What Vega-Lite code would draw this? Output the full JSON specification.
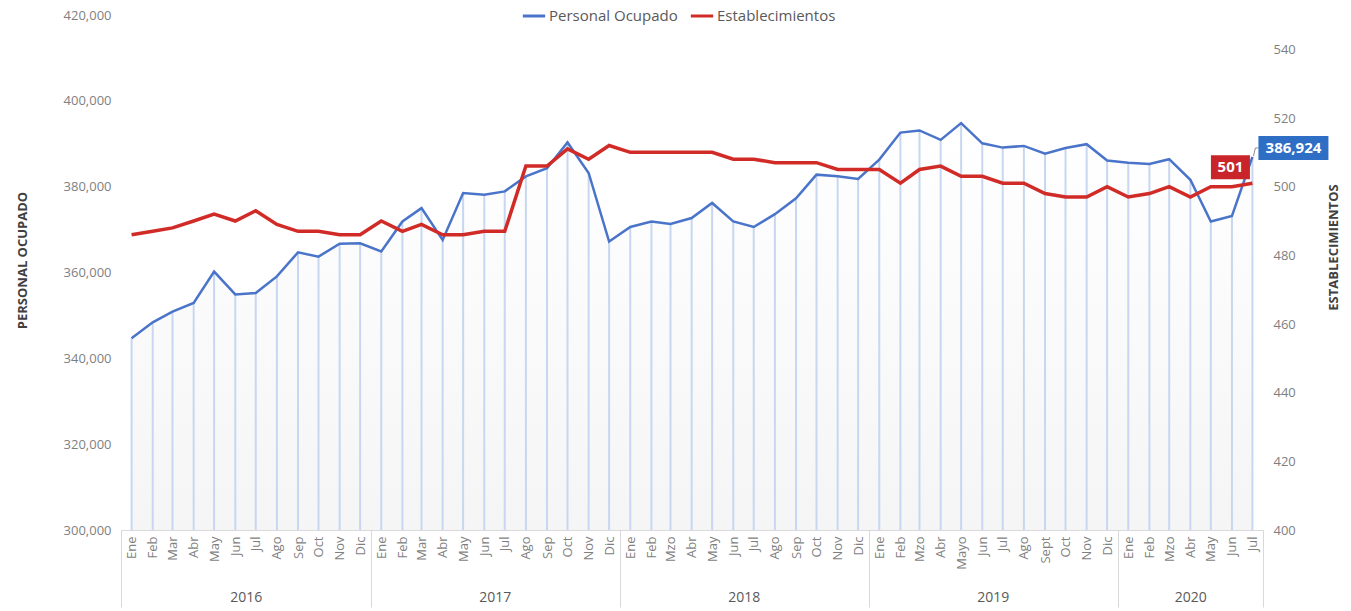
{
  "$schema": "https://vega.github.io/schema/vega-lite/v6.json",
  "width": 1142,
  "height": 515,
  "autosize": {"type": "none"},
  "padding": {"left": 121, "top": 15, "right": 88, "bottom": 81},
  "background": "white",
  "config": {
    "view": {"stroke": null},
    "font": "Open Sans",
    "axis": {"grid": false}
  },
  "data": {
    "values": [
      {"fecha": "2016-01-01", "personal": 344700, "establecimientos": 486},
      {"fecha": "2016-02-01", "personal": 348400, "establecimientos": 487},
      {"fecha": "2016-03-01", "personal": 350900, "establecimientos": 488},
      {"fecha": "2016-04-01", "personal": 352900, "establecimientos": 490},
      {"fecha": "2016-05-01", "personal": 360200, "establecimientos": 492},
      {"fecha": "2016-06-01", "personal": 354900, "establecimientos": 490},
      {"fecha": "2016-07-01", "personal": 355200, "establecimientos": 493},
      {"fecha": "2016-08-01", "personal": 359100, "establecimientos": 489},
      {"fecha": "2016-09-01", "personal": 364700, "establecimientos": 487},
      {"fecha": "2016-10-01", "personal": 363700, "establecimientos": 487},
      {"fecha": "2016-11-01", "personal": 366700, "establecimientos": 486},
      {"fecha": "2016-12-01", "personal": 366800, "establecimientos": 486},
      {"fecha": "2017-01-01", "personal": 364900, "establecimientos": 490},
      {"fecha": "2017-02-01", "personal": 371900, "establecimientos": 487},
      {"fecha": "2017-03-01", "personal": 375000, "establecimientos": 489},
      {"fecha": "2017-04-01", "personal": 367600, "establecimientos": 486},
      {"fecha": "2017-05-01", "personal": 378500, "establecimientos": 486},
      {"fecha": "2017-06-01", "personal": 378100, "establecimientos": 487},
      {"fecha": "2017-07-01", "personal": 378900, "establecimientos": 487},
      {"fecha": "2017-08-01", "personal": 382400, "establecimientos": 506},
      {"fecha": "2017-09-01", "personal": 384300, "establecimientos": 506},
      {"fecha": "2017-10-01", "personal": 390300, "establecimientos": 511},
      {"fecha": "2017-11-01", "personal": 383200, "establecimientos": 508},
      {"fecha": "2017-12-01", "personal": 367200, "establecimientos": 512},
      {"fecha": "2018-01-01", "personal": 370600, "establecimientos": 510},
      {"fecha": "2018-02-01", "personal": 371900, "establecimientos": 510},
      {"fecha": "2018-03-01", "personal": 371300, "establecimientos": 510},
      {"fecha": "2018-04-01", "personal": 372700, "establecimientos": 510},
      {"fecha": "2018-05-01", "personal": 376200, "establecimientos": 510},
      {"fecha": "2018-06-01", "personal": 371900, "establecimientos": 508},
      {"fecha": "2018-07-01", "personal": 370600, "establecimientos": 508},
      {"fecha": "2018-08-01", "personal": 373600, "establecimientos": 507},
      {"fecha": "2018-09-01", "personal": 377300, "establecimientos": 507},
      {"fecha": "2018-10-01", "personal": 382800, "establecimientos": 507},
      {"fecha": "2018-11-01", "personal": 382400, "establecimientos": 505},
      {"fecha": "2018-12-01", "personal": 381800, "establecimientos": 505},
      {"fecha": "2019-01-01", "personal": 386300, "establecimientos": 505},
      {"fecha": "2019-02-01", "personal": 392600, "establecimientos": 501},
      {"fecha": "2019-03-01", "personal": 393100, "establecimientos": 505},
      {"fecha": "2019-04-01", "personal": 390900, "establecimientos": 506},
      {"fecha": "2019-05-01", "personal": 394800, "establecimientos": 503},
      {"fecha": "2019-06-01", "personal": 390100, "establecimientos": 503},
      {"fecha": "2019-07-01", "personal": 389100, "establecimientos": 501},
      {"fecha": "2019-08-01", "personal": 389500, "establecimientos": 501},
      {"fecha": "2019-09-01", "personal": 387700, "establecimientos": 498},
      {"fecha": "2019-10-01", "personal": 389000, "establecimientos": 497},
      {"fecha": "2019-11-01", "personal": 389900, "establecimientos": 497},
      {"fecha": "2019-12-01", "personal": 386100, "establecimientos": 500},
      {"fecha": "2020-01-01", "personal": 385600, "establecimientos": 497},
      {"fecha": "2020-02-01", "personal": 385300, "establecimientos": 498},
      {"fecha": "2020-03-01", "personal": 386400, "establecimientos": 500},
      {"fecha": "2020-04-01", "personal": 381600, "establecimientos": 497},
      {"fecha": "2020-05-01", "personal": 371900, "establecimientos": 500},
      {"fecha": "2020-06-01", "personal": 373200, "establecimientos": 500},
      {"fecha": "2020-07-01", "personal": 386924, "establecimientos": 501}
    ]
  },
  "layer": [
    {
      "encoding": {
        "x": {
          "field": "fecha",
          "type": "temporal",
          "scale": {
            "type": "utc",
            "domain": [
              {"year": 2015, "month": 12, "date": 16, "hours": 12, "utc": true},
              {"year": 2020, "month": 7, "date": 16, "hours": 12, "utc": true}
            ]
          },
          "axis": {
            "orient": "bottom",
            "title": null,
            "tickCount": {"interval": "month", "step": 1},
            "labelExpr": "utcmonth(datum.value)==2 && utcyear(datum.value)>=2018 ? 'Mzo' : (utcyear(datum.value)==2019 && utcmonth(datum.value)==4 ? 'Mayo' : (utcyear(datum.value)==2019 && utcmonth(datum.value)==8 ? 'Sept' : ['Ene','Feb','Mar','Abr','May','Jun','Jul','Ago','Sep','Oct','Nov','Dic'][utcmonth(datum.value)]))",
            "labelAngle": -90,
            "labelAlign": "right",
            "labelBaseline": "middle",
            "labelPadding": 6,
            "labelFontSize": 13,
            "labelColor": "#7f7f7f",
            "labelOverlap": false,
            "labelFlush": false,
            "ticks": false,
            "domainColor": "#d9d9d9",
            "grid": false
          }
        },
        "y": {
          "field": "personal",
          "type": "quantitative",
          "scale": {"domain": [300000, 420000]},
          "axis": {
            "title": "PERSONAL OCUPADO",
            "values": [300000, 320000, 340000, 360000, 380000, 400000, 420000],
            "format": ",d",
            "labelFontSize": 13,
            "labelColor": "#7f7f7f",
            "labelPadding": 10,
            "ticks": false,
            "domain": false,
            "grid": false,
            "titleFontSize": 13,
            "titleFontWeight": "bold",
            "titleColor": "#404040",
            "titlePadding": 34,
            "titleY": 245
          }
        }
      },
      "layer": [
        {
          "mark": {
            "type": "area",
            "fill": {
              "gradient": "linear",
              "x1": 0, "y1": 0, "x2": 0, "y2": 1,
              "stops": [
                {"offset": 0, "color": "#ffffff"},
                {"offset": 1, "color": "#f5f5f6"}
              ]
            }
          },
          "encoding": {"y2": {"datum": 300000}}
        },
        {
          "mark": {"type": "rule", "color": "#c7d7f1", "strokeWidth": 2},
          "encoding": {"y2": {"datum": 300000}}
        },
        {
          "mark": {"type": "line", "strokeWidth": 2.5},
          "encoding": {
            "color": {
              "datum": "Personal Ocupado",
              "type": "nominal",
              "scale": {
                "domain": ["Personal Ocupado", "Establecimientos"],
                "range": ["#4a74c9", "#d12b27"]
              },
              "legend": {
                "title": null,
                "orient": "none",
                "legendX": 400,
                "legendY": -12,
                "direction": "horizontal",
                "symbolType": "stroke",
                "symbolSize": 500,
                "symbolStrokeWidth": 3,
                "labelFontSize": 15,
                "labelColor": "#595959",
                "columnPadding": 6,
                "labelOffset": 2
              }
            }
          }
        },
        {
          "transform": [{"filter": "time(datum.fecha) == utc(2020,6,1)"}],
          "mark": {"type": "point", "shape": "M0.1,-0.1L0.3,-0.9L0.6,-0.9", "size": 400, "filled": false, "stroke": "#8c8c8c", "strokeWidth": 1, "opacity": 1}
        },
        {
          "transform": [{"filter": "time(datum.fecha) == utc(2020,6,1)"}],
          "mark": {"type": "point", "shape": "M-1,-0.343H1V0.343H-1Z", "size": 4900, "filled": true, "fill": "#2e6fc5", "opacity": 1, "strokeWidth": 0, "xOffset": 41, "yOffset": -9}
        },
        {
          "transform": [{"filter": "time(datum.fecha) == utc(2020,6,1)"}],
          "mark": {"type": "text", "color": "white", "fontWeight": "bold", "fontSize": 15, "align": "center", "baseline": "middle", "dx": 41, "dy": -9},
          "encoding": {"text": {"field": "personal", "type": "quantitative", "format": ",d"}}
        }
      ]
    },
    {
      "encoding": {
        "x": {
          "field": "fecha",
          "type": "temporal",
          "axis": {
            "orient": "bottom",
            "title": null,
            "values": [
              {"year": 2016, "month": 6, "date": 16, "hours": 12, "utc": true},
              {"year": 2017, "month": 6, "date": 16, "hours": 12, "utc": true},
              {"year": 2018, "month": 6, "date": 16, "hours": 12, "utc": true},
              {"year": 2019, "month": 6, "date": 16, "hours": 12, "utc": true},
              {"year": 2020, "month": 4, "date": 1, "utc": true}
            ],
            "labelExpr": "'' + utcyear(datum.value)",
            "labelAngle": 0,
            "labelAlign": "center",
            "labelBaseline": "top",
            "labelPadding": 60,
            "labelFontSize": 14,
            "labelColor": "#595959",
            "labelOverlap": false,
            "labelFlush": false,
            "ticks": false,
            "domain": false,
            "grid": false
          }
        },
        "y": {
          "field": "establecimientos",
          "type": "quantitative",
          "scale": {"domain": [400, 550]},
          "axis": {
            "orient": "right",
            "title": "ESTABLECIMIENTOS",
            "values": [400, 420, 440, 460, 480, 500, 520, 540],
            "labelFontSize": 13,
            "labelColor": "#7f7f7f",
            "labelPadding": 10,
            "ticks": false,
            "domain": false,
            "grid": false,
            "titleFontSize": 13,
            "titleFontWeight": "bold",
            "titleColor": "#404040",
            "titleAngle": 270,
            "titleBaseline": "top",
            "titlePadding": 32,
            "titleY": 232
          }
        }
      },
      "layer": [
        {
          "mark": {"type": "line", "strokeWidth": 3.5},
          "encoding": {"color": {"datum": "Establecimientos", "type": "nominal"}}
        },
        {
          "transform": [{"filter": "time(datum.fecha) == utc(2020,6,1)"}],
          "mark": {"type": "point", "shape": "M-1,-0.615H1V0.615H-1Z", "size": 1521, "filled": true, "fill": "#c8242a", "opacity": 1, "strokeWidth": 0, "xOffset": -22, "yOffset": -16}
        },
        {
          "transform": [{"filter": "time(datum.fecha) == utc(2020,6,1)"}],
          "mark": {"type": "text", "color": "white", "fontWeight": "bold", "fontSize": 15, "align": "center", "baseline": "middle", "dx": -22, "dy": -16},
          "encoding": {"text": {"field": "establecimientos", "type": "quantitative"}}
        }
      ]
    },
    {
      "mark": {"type": "point", "opacity": 0},
      "encoding": {
        "x": {
          "field": "fecha",
          "type": "temporal",
          "axis": {
            "orient": "bottom",
            "title": null,
            "values": [
              {"year": 2015, "month": 12, "date": 16, "hours": 12, "utc": true},
              {"year": 2016, "month": 12, "date": 16, "hours": 12, "utc": true},
              {"year": 2017, "month": 12, "date": 16, "hours": 12, "utc": true},
              {"year": 2018, "month": 12, "date": 16, "hours": 12, "utc": true},
              {"year": 2019, "month": 12, "date": 16, "hours": 12, "utc": true},
              {"year": 2020, "month": 7, "date": 16, "hours": 12, "utc": true}
            ],
            "labels": false,
            "ticks": true,
            "tickSize": 77,
            "tickColor": "#d9d9d9",
            "tickWidth": 1,
            "domain": false,
            "grid": false
          }
        },
        "y": {
          "field": "establecimientos",
          "type": "quantitative",
          "scale": {"domain": [400, 550]},
          "axis": null
        }
      }
    }
  ],
  "resolve": {"scale": {"y": "independent"}, "axis": {"x": "independent"}}
}
